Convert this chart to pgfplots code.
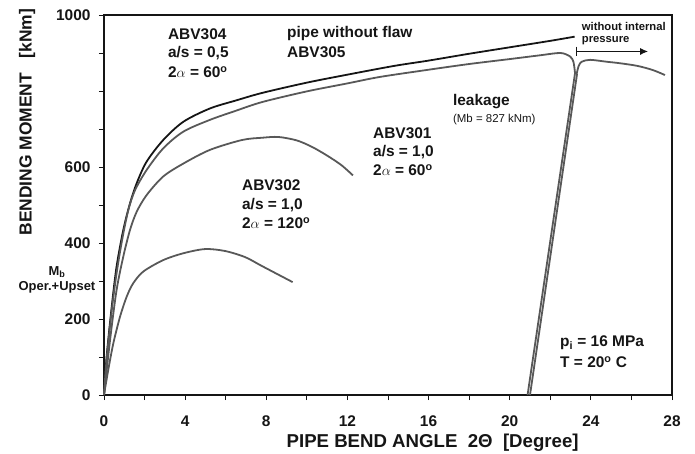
\documentclass[border=0pt]{standalone}
\usepackage{pgfplots}
\pgfplotsset{compat=1.18}
\usetikzlibrary{arrows.meta}
\usepackage{fontspec}
\setmainfont{Liberation Sans}
\definecolor{cblack}{HTML}{151515}
\definecolor{cgray}{HTML}{585858}
\begin{document}
\begin{tikzpicture}
\begin{axis}[
  name=ax,
  scale only axis, width=568bp, height=380bp,
  xmin=0, xmax=28, ymin=0, ymax=1000,
  xtick={0,2,...,28}, xticklabels={0,,4,,8,,12,,16,,20,,24,,28},
  ytick={0,100,...,1000}, yticklabels={0,,200,,400,,600,,,,1000},
  tick align=outside, major tick length=5bp,
  xtick pos=bottom, ytick pos=left,
  tick style={line width=0.9pt, color=cblack},
  axis line style={line width=1.1pt, cblack},
  /pgf/number format/assume math mode=true,
  ticklabel style={font=\bfseries\fontsize{15.5}{15.5}\selectfont, text=cblack},
  xticklabel style={yshift=-12bp},
  yticklabel style={xshift=-5bp},
  clip=false,
  every axis plot/.append style={line width=1.8pt},
]
% pipe without flaw ABV305
\addplot[cblack, smooth, tension=0.5] coordinates {
(0,0)(0.13,101)(0.38,232)(0.62,338)(0.95,434)(1.28,504)(1.61,557)(2.1,614)
(2.92,671)(3.91,719)(5.22,754)(6.5,775)(7.8,795)(10,822)(12,843)(14.3,866)
(16,880)(18,898)(20,915)(22,932)(23.2,943)};
% ABV304
\addplot[cgray, smooth, tension=0.5] coordinates {
(0,0)(0.13,95)(0.38,222)(0.62,320)(0.9,410)(1.2,487)(1.53,539)(2.1,592)
(2.92,649)(3.91,693)(5.22,724)(6.5,748)(7.8,771)(10,799)(12,820)(13.6,837)
(16,856)(18,871)(20,884)(21.5,894)(22.5,900)(22.97,891)(23.14,877)(23.22,847)};
\addplot[cgray] coordinates {(23.22,847)(20.88,0)};
\addplot[cgray] coordinates {(21.0,0)(23.32,845)};
% without internal pressure
\addplot[cgray, smooth, tension=0.5] coordinates {
(23.3,845)(23.4,866)(23.55,877)(23.96,882)(24.78,877)(25.44,873)(26.3,866)
(27.06,855)(27.65,842)};
% ABV301
\addplot[cgray, smooth, tension=0.5] coordinates {
(0,0)(0.3,145)(0.62,276)(0.95,364)(1.28,434)(1.61,482)(2.1,526)(2.92,575)
(3.91,609)(5.22,645)(6.8,671)(7.8,677)(8.6,679)(9.5,670)(10.25,653)(11,630)
(11.7,605)(12.27,578)};
% ABV302
\addplot[cgray, smooth, tension=0.5] coordinates {
(0,0)(0.21,66)(0.46,136)(0.79,206)(1.12,259)(1.44,294)(1.94,325)(2.92,355)
(3.91,373)(4.98,384)(5.96,379)(6.95,363)(7.8,339)(9.3,297)};

% annotations
\begin{scope}[every node/.style={anchor=west, inner sep=0pt, font=\bfseries\fontsize{15.5}{15.5}\selectfont, text=cblack}]
\node at (axis cs:3.15,950) {ABV304};
\node at (axis cs:3.15,900) {a/s = 0,5};
\node at (axis cs:3.15,850) {2$\alpha$ = 60\textsuperscript{o}};
\node at (axis cs:9.02,950) {pipe without flaw};
\node at (axis cs:9.02,903) {ABV305};
\node at (axis cs:13.26,689) {ABV301};
\node at (axis cs:13.26,639) {a/s = 1,0};
\node at (axis cs:13.26,592) {2$\alpha$ = 60\textsuperscript{o}};
\node at (axis cs:17.2,771) {leakage};
\node[font=\fontsize{11.5}{11.5}\selectfont] at (axis cs:17.2,724) {(Mb = 827 kNm)};
\node at (axis cs:6.8,553) {ABV302};
\node at (axis cs:6.8,500) {a/s = 1,0};
\node at (axis cs:6.8,453) {2$\alpha$ = 120\textsuperscript{o}};
\node at (axis cs:22.48,137) {p\textsubscript{i} = 16 MPa};
\node at (axis cs:22.48,87) {T = 20\textsuperscript{o} C};
\node[font=\bfseries\fontsize{11.3}{11.3}\selectfont] at (axis cs:23.55,969) {without internal};
\node[font=\bfseries\fontsize{11.3}{11.3}\selectfont] at (axis cs:23.55,932) {pressure};
\end{scope}
\node[anchor=center, inner sep=0pt, font=\bfseries\fontsize{13}{13}\selectfont, text=cblack] at (axis cs:-2.32,324) {M\textsubscript{b}};
\node[anchor=center, inner sep=0pt, font=\bfseries\fontsize{13}{13}\selectfont, text=cblack] at (axis cs:-2.32,284) {Oper.+Upset};
% arrow
\draw[line width=1pt, cblack] (axis cs:23.27,917) -- (axis cs:23.27,892);
\draw[line width=1pt, cblack, -{Latex[length=8bp,width=7bp]}] (axis cs:23.27,904) -- (axis cs:26.82,904);
% axis labels
\node[anchor=base, inner sep=0pt, yshift=-52bp, font=\bfseries\fontsize{18.7}{18.7}\selectfont, text=cblack] at (axis cs:16.2,0) {PIPE BEND ANGLE\ \ 2Θ\ \ [Degree]};
\node[anchor=center, inner sep=0pt, rotate=90, font=\bfseries\fontsize{17.5}{17.5}\selectfont, text=cblack] at ([xshift=-77bp]axis cs:0,718) {BENDING MOMENT\ \ \ [kNm]};
\end{axis}
\pgfresetboundingbox
\path[use as bounding box] (-104bp,-59bp) rectangle (591bp,395bp);
\end{tikzpicture}
\end{document}
